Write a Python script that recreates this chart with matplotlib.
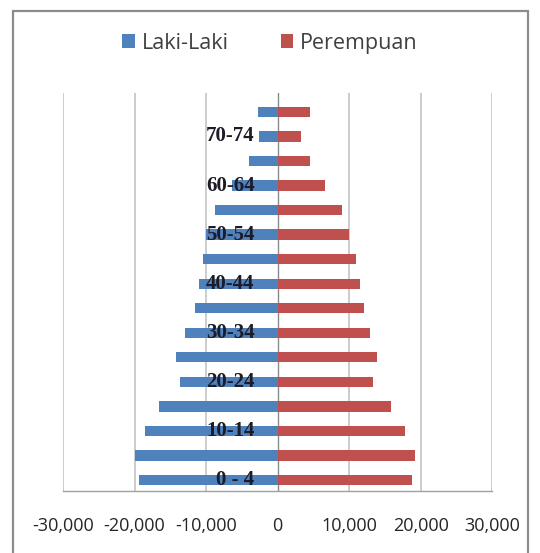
import matplotlib
matplotlib.use('Agg')
import matplotlib.pyplot as plt
import matplotlib.transforms as mtransforms
from matplotlib.patches import Rectangle

# ── Data: penduduk per kelompok umur ─────────────────────────────────────────
age_groups = ['0 - 4', '5-9', '10-14', '15-19', '20-24', '25-29', '30-34', '35-39',
              '40-44', '45-49', '50-54', '55-59', '60-64', '65-69', '70-74', '75+']
laki_laki = [19440, 19900, 18600, 16600, 13610, 14170, 12910, 11600,
             11000, 10440, 10000, 8720, 6400, 4010, 2650, 2750]
perempuan = [18800, 19260, 17860, 15900, 13330, 13890, 12960, 12030,
             11560, 11000, 9980, 9000, 6570, 4570, 3220, 4570]
x_ticks = [-30000, -20000, -10000, 0, 10000, 20000, 30000]

BLUE = '#4F81BD'
RED = '#C0504D'

fig = plt.figure(figsize=(5.4, 5.53), dpi=100)
ax = fig.add_axes([0.1167, 0.1121, 0.7946, 0.7197])

pos = list(range(len(age_groups)))
ax.barh(pos, [-v for v in laki_laki], height=0.42, color=BLUE, label='Laki-Laki', zorder=2)
ax.barh(pos, perempuan, height=0.42, color=RED, label='Perempuan', zorder=2)

ax.set_xlim(-30000, 30000)
ax.set_ylim(-0.45, 15.77)

# gridlines & axis
for v in x_ticks:
    if v != 0:
        ax.axvline(v, color='#c4c4c4', linewidth=1.2, zorder=0)
ax.axvline(0, color='#8a8a8a', linewidth=1.0, zorder=1)

for s in ['left', 'right', 'top']:
    ax.spines[s].set_visible(False)
ax.spines['bottom'].set_color('#a0a0a0')
ax.spines['bottom'].set_linewidth(1.0)

ax.set_yticks([])
ax.set_xticks(x_ticks)
ax.set_xticklabels([f'{v:,}' for v in x_ticks], fontsize=13,
                   family='Open Sans', color='#262626')
ax.tick_params(axis='x', length=0, pad=19)

# category labels next to the zero axis (every other one)
offset = mtransforms.ScaledTranslation(-0.23, 0, fig.dpi_scale_trans)
for i, lab in enumerate(age_groups):
    if i % 2 == 0:
        ax.text(0, i, lab, transform=ax.transData + offset, ha='right', va='center',
                fontsize=15, family='Liberation Serif', fontweight='bold',
                color='#1c1c28', zorder=5)

leg = fig.legend(loc='center', bbox_to_anchor=(0.5, 0.922), ncol=2, frameon=False,
                 prop={'family': 'Open Sans', 'size': 15.5}, handlelength=0.6,
                 handleheight=0.6, handletextpad=0.3, columnspacing=2.4)
for t in leg.get_texts():
    t.set_color('#404040')

# outer chart border
fig.patches.append(Rectangle((13 / 540, -0.05), (528 - 13) / 540, 1.05 - 11 / 553,
                             transform=fig.transFigure, fill=False,
                             edgecolor='#8c8c8c', linewidth=1.6))

fig.savefig('out.png', dpi=100)
